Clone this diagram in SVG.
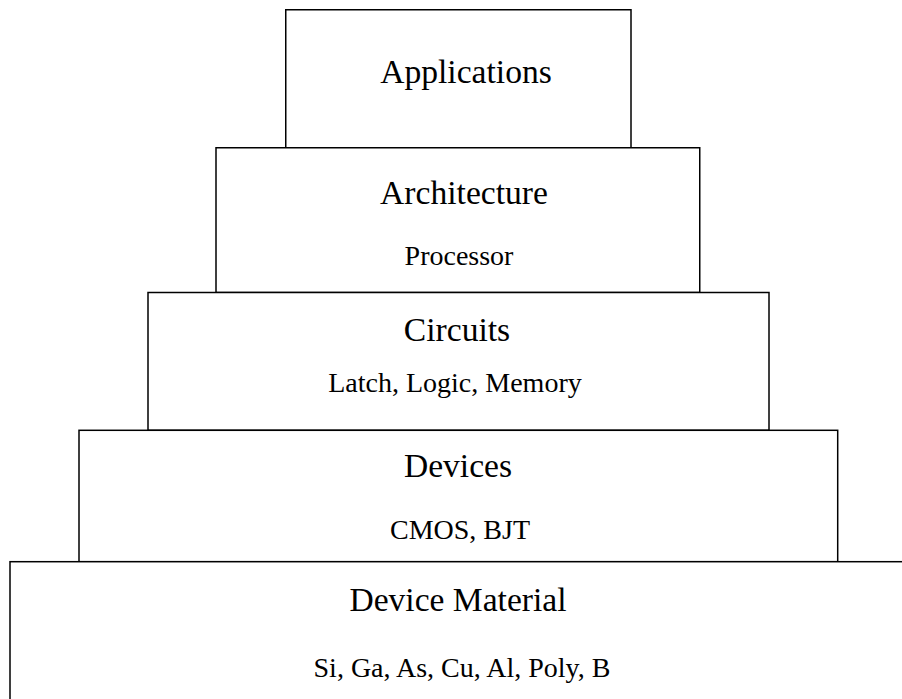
<svg xmlns="http://www.w3.org/2000/svg" width="902" height="699" viewBox="0 0 902 699">
<style>
.box{fill:#ffffff;stroke:#000000;stroke-width:1.5}
.t{font-family:"Liberation Serif","Times New Roman",serif;fill:#000000;text-anchor:middle}
.h{font-size:33.6px}
.s{font-size:28px}
</style>
<rect x="0" y="0" width="902" height="699" fill="#ffffff"/>
<g id="connectors"></g>
<g id="applications">
<rect class="box" x="285.75" y="9.75" width="345.25" height="138"/>
<text class="t h" x="466" y="83.3">Applications</text>
</g>
<g id="architecture">
<rect class="box" x="216" y="147.75" width="483.75" height="144.75"/>
<text class="t h" x="464" y="204.3">Architecture</text>
<text class="t s" x="459" y="265">Processor</text>
</g>
<g id="circuits">
<rect class="box" x="148" y="292.5" width="621" height="137.8"/>
<text class="t h" x="457" y="340.7">Circuits</text>
<text class="t s" x="455" y="392">Latch, Logic, Memory</text>
</g>
<g id="devices">
<rect class="box" x="79" y="430.3" width="758.7" height="131.4"/>
<text class="t h" x="458" y="477">Devices</text>
<text class="t s" x="460" y="539">CMOS, BJT</text>
</g>
<g id="device-material">
<rect class="box" x="10" y="561.7" width="900" height="150"/>
<text class="t h" x="458" y="611">Device Material</text>
<text class="t s" x="462" y="676.7">Si, Ga, As, Cu, Al, Poly, B</text>
</g>
</svg>
